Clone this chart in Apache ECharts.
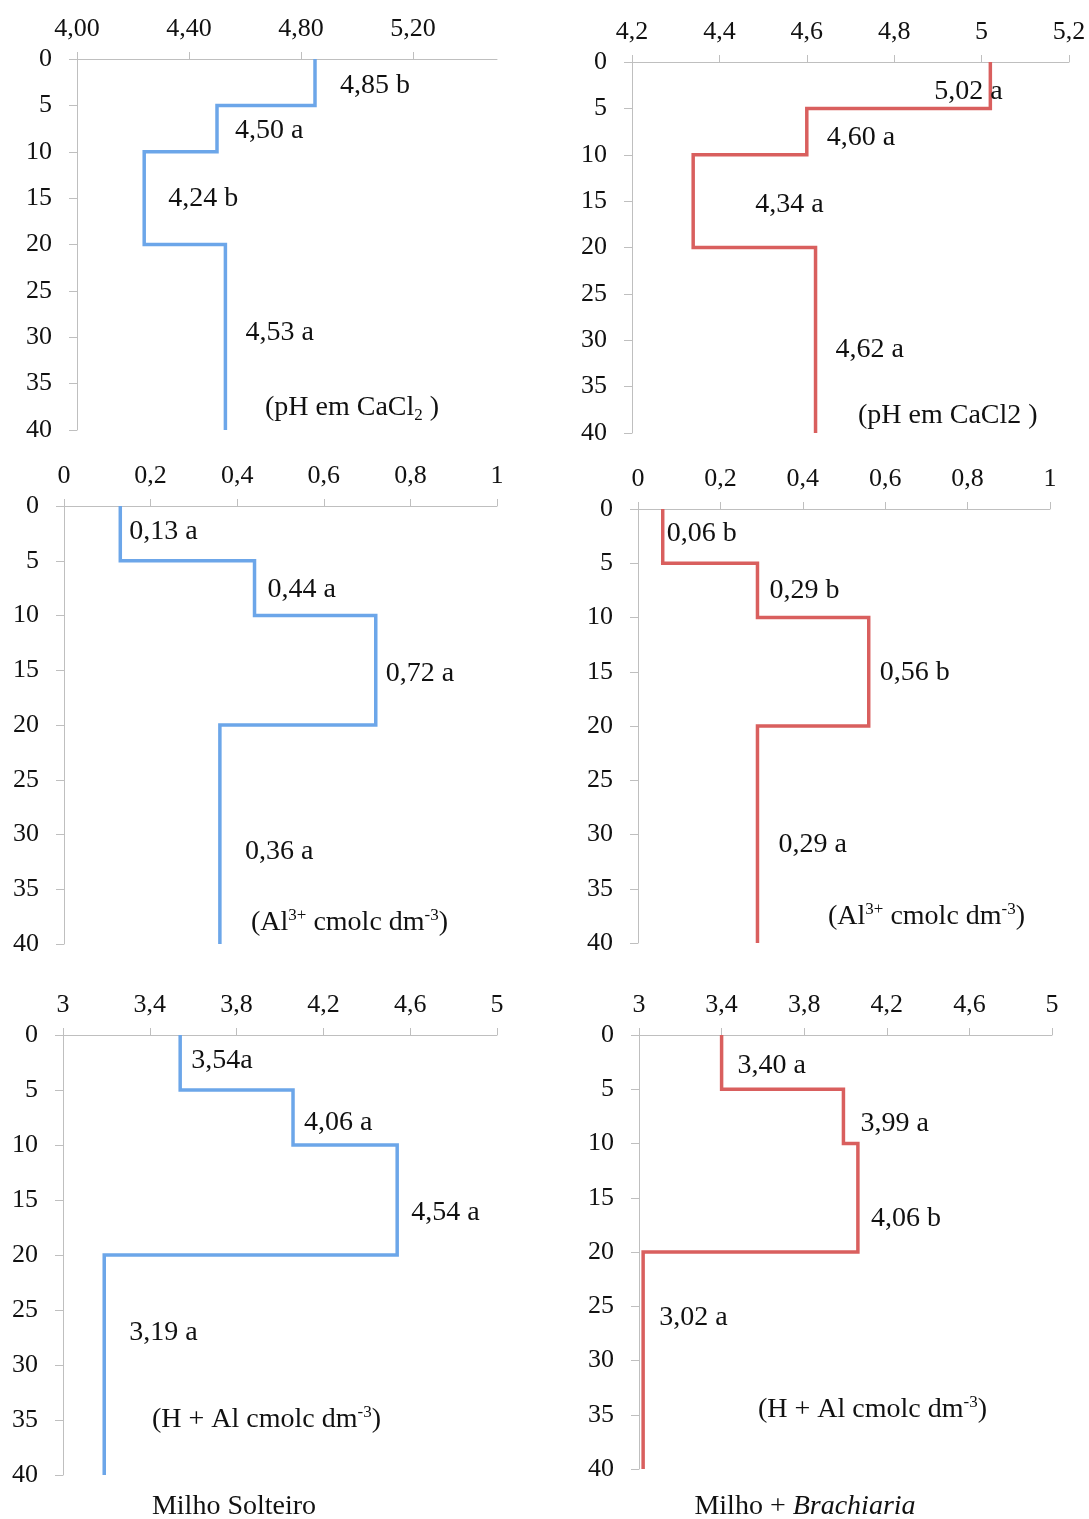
<!DOCTYPE html>
<html>
<head>
<meta charset="utf-8">
<script src="https://cdn.jsdelivr.net/npm/echarts@6/dist/echarts.min.js"></script>
<style>
html,body{margin:0;padding:0;background:#fff;}
#c{width:1089px;height:1519px;}
</style>
</head>
<body>
<div id="c"></div>
<script>
// ---- data ----
const depthBreaks = [0, 5, 10, 20, 40];

const phSolteiro = [4.85, 4.50, 4.24, 4.53];
const phSolteiroLetters = [' b', ' a', ' b', ' a'];
const phBrach = [5.02, 4.60, 4.34, 4.62];
const phBrachLetters = [' a', ' a', ' a', ' a'];

const alSolteiro = [0.13, 0.44, 0.72, 0.36];
const alSolteiroLetters = [' a', ' a', ' a', ' a'];
const alBrach = [0.06, 0.29, 0.56, 0.29];
const alBrachLetters = [' b', ' b', ' b', ' a'];

const halSolteiro = [3.54, 4.06, 4.54, 3.19];
const halSolteiroLetters = ['a', ' a', ' a', ' a'];
const halBrach = [3.40, 3.99, 4.06, 3.02];
const halBrachLetters = [' a', ' a', ' b', ' a'];

const phSolteiroTicks = [4.0, 4.4, 4.8, 5.2];
const phSolteiroRange = [4.0, 5.5];
const phBrachTicks = [4.2, 4.4, 4.6, 4.8, 5.0, 5.2];
const phBrachRange = [4.2, 5.2];
const alTicks = [0, 0.2, 0.4, 0.6, 0.8, 1];
const alRange = [0, 1];
const halTicks = [3, 3.4, 3.8, 4.2, 4.6, 5];
const halRange = [3, 5];
const depthTicks = [0, 5, 10, 15, 20, 25, 30, 35, 40];

// ---- styles / layout ----
const BLUE = '#6CA6E9';
const RED = '#D95F5E';
const FONT = '"Liberation Serif", "Times New Roman", serif';
const TXT = '#111111';
const AXIS = '#BFBFBF';

const panels = [
  {values: phSolteiro, letters: phSolteiroLetters, ticks: phSolteiroTicks, range: phSolteiroRange, dec: 2, color: BLUE,
   grid: {left: 77, top: 59, width: 420, height: 371}, offsets: [[25, 3], [18, 2], [24, 1], [20, -5]]},
  {values: phBrach, letters: phBrachLetters, ticks: phBrachTicks, range: phBrachRange, dec: -1, color: RED,
   grid: {left: 632, top: 62, width: 437, height: 371}, offsets: [[-56, 6], [20, 6], [62, 4], [20, 9]]},
  {values: alSolteiro, letters: alSolteiroLetters, ticks: alTicks, range: alRange, dec: -1, color: BLUE,
   grid: {left: 64, top: 506, width: 433, height: 438}, offsets: [[9, -2], [13, 2], [10, 3], [25, 17]]},
  {values: alBrach, letters: alBrachLetters, ticks: alTicks, range: alRange, dec: -1, color: RED,
   grid: {left: 638, top: 509, width: 412, height: 434}, offsets: [[4, -2], [12, 0], [11, 1], [21, 10]]},
  {values: halSolteiro, letters: halSolteiroLetters, ticks: halTicks, range: halRange, dec: -1, color: BLUE,
   grid: {left: 63, top: 1035, width: 434, height: 440}, offsets: [[11, -2], [11, 5], [14, 13], [25, -32]]},
  {values: halBrach, letters: halBrachLetters, ticks: halTicks, range: halRange, dec: -1, color: RED,
   grid: {left: 639, top: 1035, width: 413, height: 434}, offsets: [[16, 4], [17, 7], [13, 21], [16, -43]]}
];

function fmt(v, dec) {
  if (dec >= 0) return v.toFixed(dec).replace('.', ',');
  return String(Math.round(v * 100) / 100).replace('.', ',');
}

const grids = [], xAxes = [], yAxes = [], series = [];
panels.forEach((p, i) => {
  grids.push(Object.assign({containLabel: false}, p.grid));
  xAxes.push({
    type: 'value', gridIndex: i, position: 'top', min: p.range[0], max: p.range[1],
    axisLine: {show: true, onZero: false, lineStyle: {color: AXIS, width: 1}},
    axisTick: {show: true, length: 7, customValues: p.ticks, lineStyle: {color: AXIS}},
    splitLine: {show: false},
    axisLabel: {customValues: p.ticks, margin: 17, fontFamily: FONT, fontSize: 26, color: TXT,
      formatter: v => fmt(v, p.dec)}
  });
  yAxes.push({
    type: 'value', gridIndex: i, inverse: true, min: 0, max: 40, interval: 5,
    axisLine: {show: true, onZero: false, lineStyle: {color: AXIS, width: 1}},
    axisTick: {show: true, length: 8, lineStyle: {color: AXIS}},
    splitLine: {show: false},
    axisLabel: {margin: 25, fontFamily: FONT, fontSize: 26, color: TXT}
  });
  const pts = [];
  p.values.forEach((v, k) => { pts.push([v, depthBreaks[k]]); pts.push([v, depthBreaks[k + 1]]); });
  series.push({
    type: 'line', xAxisIndex: i, yAxisIndex: i, data: pts, symbol: 'none', silent: true,
    lineStyle: {color: p.color, width: 3.5, cap: 'butt', join: 'miter'}, z: 2
  });
  series.push({
    type: 'scatter', xAxisIndex: i, yAxisIndex: i, symbolSize: 0, silent: true,
    itemStyle: {color: TXT, opacity: 1}, z: 3,
    data: p.values.map((v, k) => ({
      value: [v, (depthBreaks[k] + depthBreaks[k + 1]) / 2],
      name: fmt(v, 2) + p.letters[k],
      label: {offset: p.offsets[k]}
    })),
    label: {show: true, position: 'right', distance: 0, formatter: '{b}', fontFamily: FONT, fontSize: 28,
      color: TXT, opacity: 1, align: 'left', verticalAlign: 'middle'}
  });
});

const rich = {
  n: {fontFamily: FONT, fontSize: 28, lineHeight: 32, fill: TXT, color: TXT},
  i: {fontFamily: FONT, fontSize: 28, lineHeight: 32, fontStyle: 'italic', fill: TXT, color: TXT},
  sup: {fontFamily: FONT, fontSize: 17, lineHeight: 17, verticalAlign: 'top', fill: TXT, color: TXT},
  sub: {fontFamily: FONT, fontSize: 17, lineHeight: 17, verticalAlign: 'bottom', fill: TXT, color: TXT}
};
function label(text, x, y, align) {
  return {type: 'text', x: x, y: y, silent: true, z: 10,
    style: {text: text, rich: rich, fill: TXT, font: '28px ' + FONT,
      align: align || 'left', textAlign: align || 'left', verticalAlign: 'middle', textVerticalAlign: 'middle'}};
}

const graphics = [
  label('{n|(pH em CaCl}{sub|2}{n| )}', 265, 408),
  label('{n|(pH em CaCl2 )}', 858, 416),
  label('{n|(Al}{sup|3+}{n| cmolc dm}{sup|-3}{n|)}', 251, 923),
  label('{n|(Al}{sup|3+}{n| cmolc dm}{sup|-3}{n|)}', 828, 917),
  label('{n|(H + Al cmolc dm}{sup|-3}{n|)}', 152, 1420),
  label('{n|(H + Al cmolc dm}{sup|-3}{n|)}', 758, 1410),
  label('{n|Milho Solteiro}', 234, 1507, 'center'),
  label('{n|Milho + }{i|Brachiaria}', 805, 1507, 'center')
];

const chart = echarts.init(document.getElementById('c'), null, {renderer: 'canvas'});
chart.setOption({
  animation: false,
  backgroundColor: '#ffffff',
  grid: grids, xAxis: xAxes, yAxis: yAxes, series: series,
  graphic: graphics
});
</script>
</body>
</html>
